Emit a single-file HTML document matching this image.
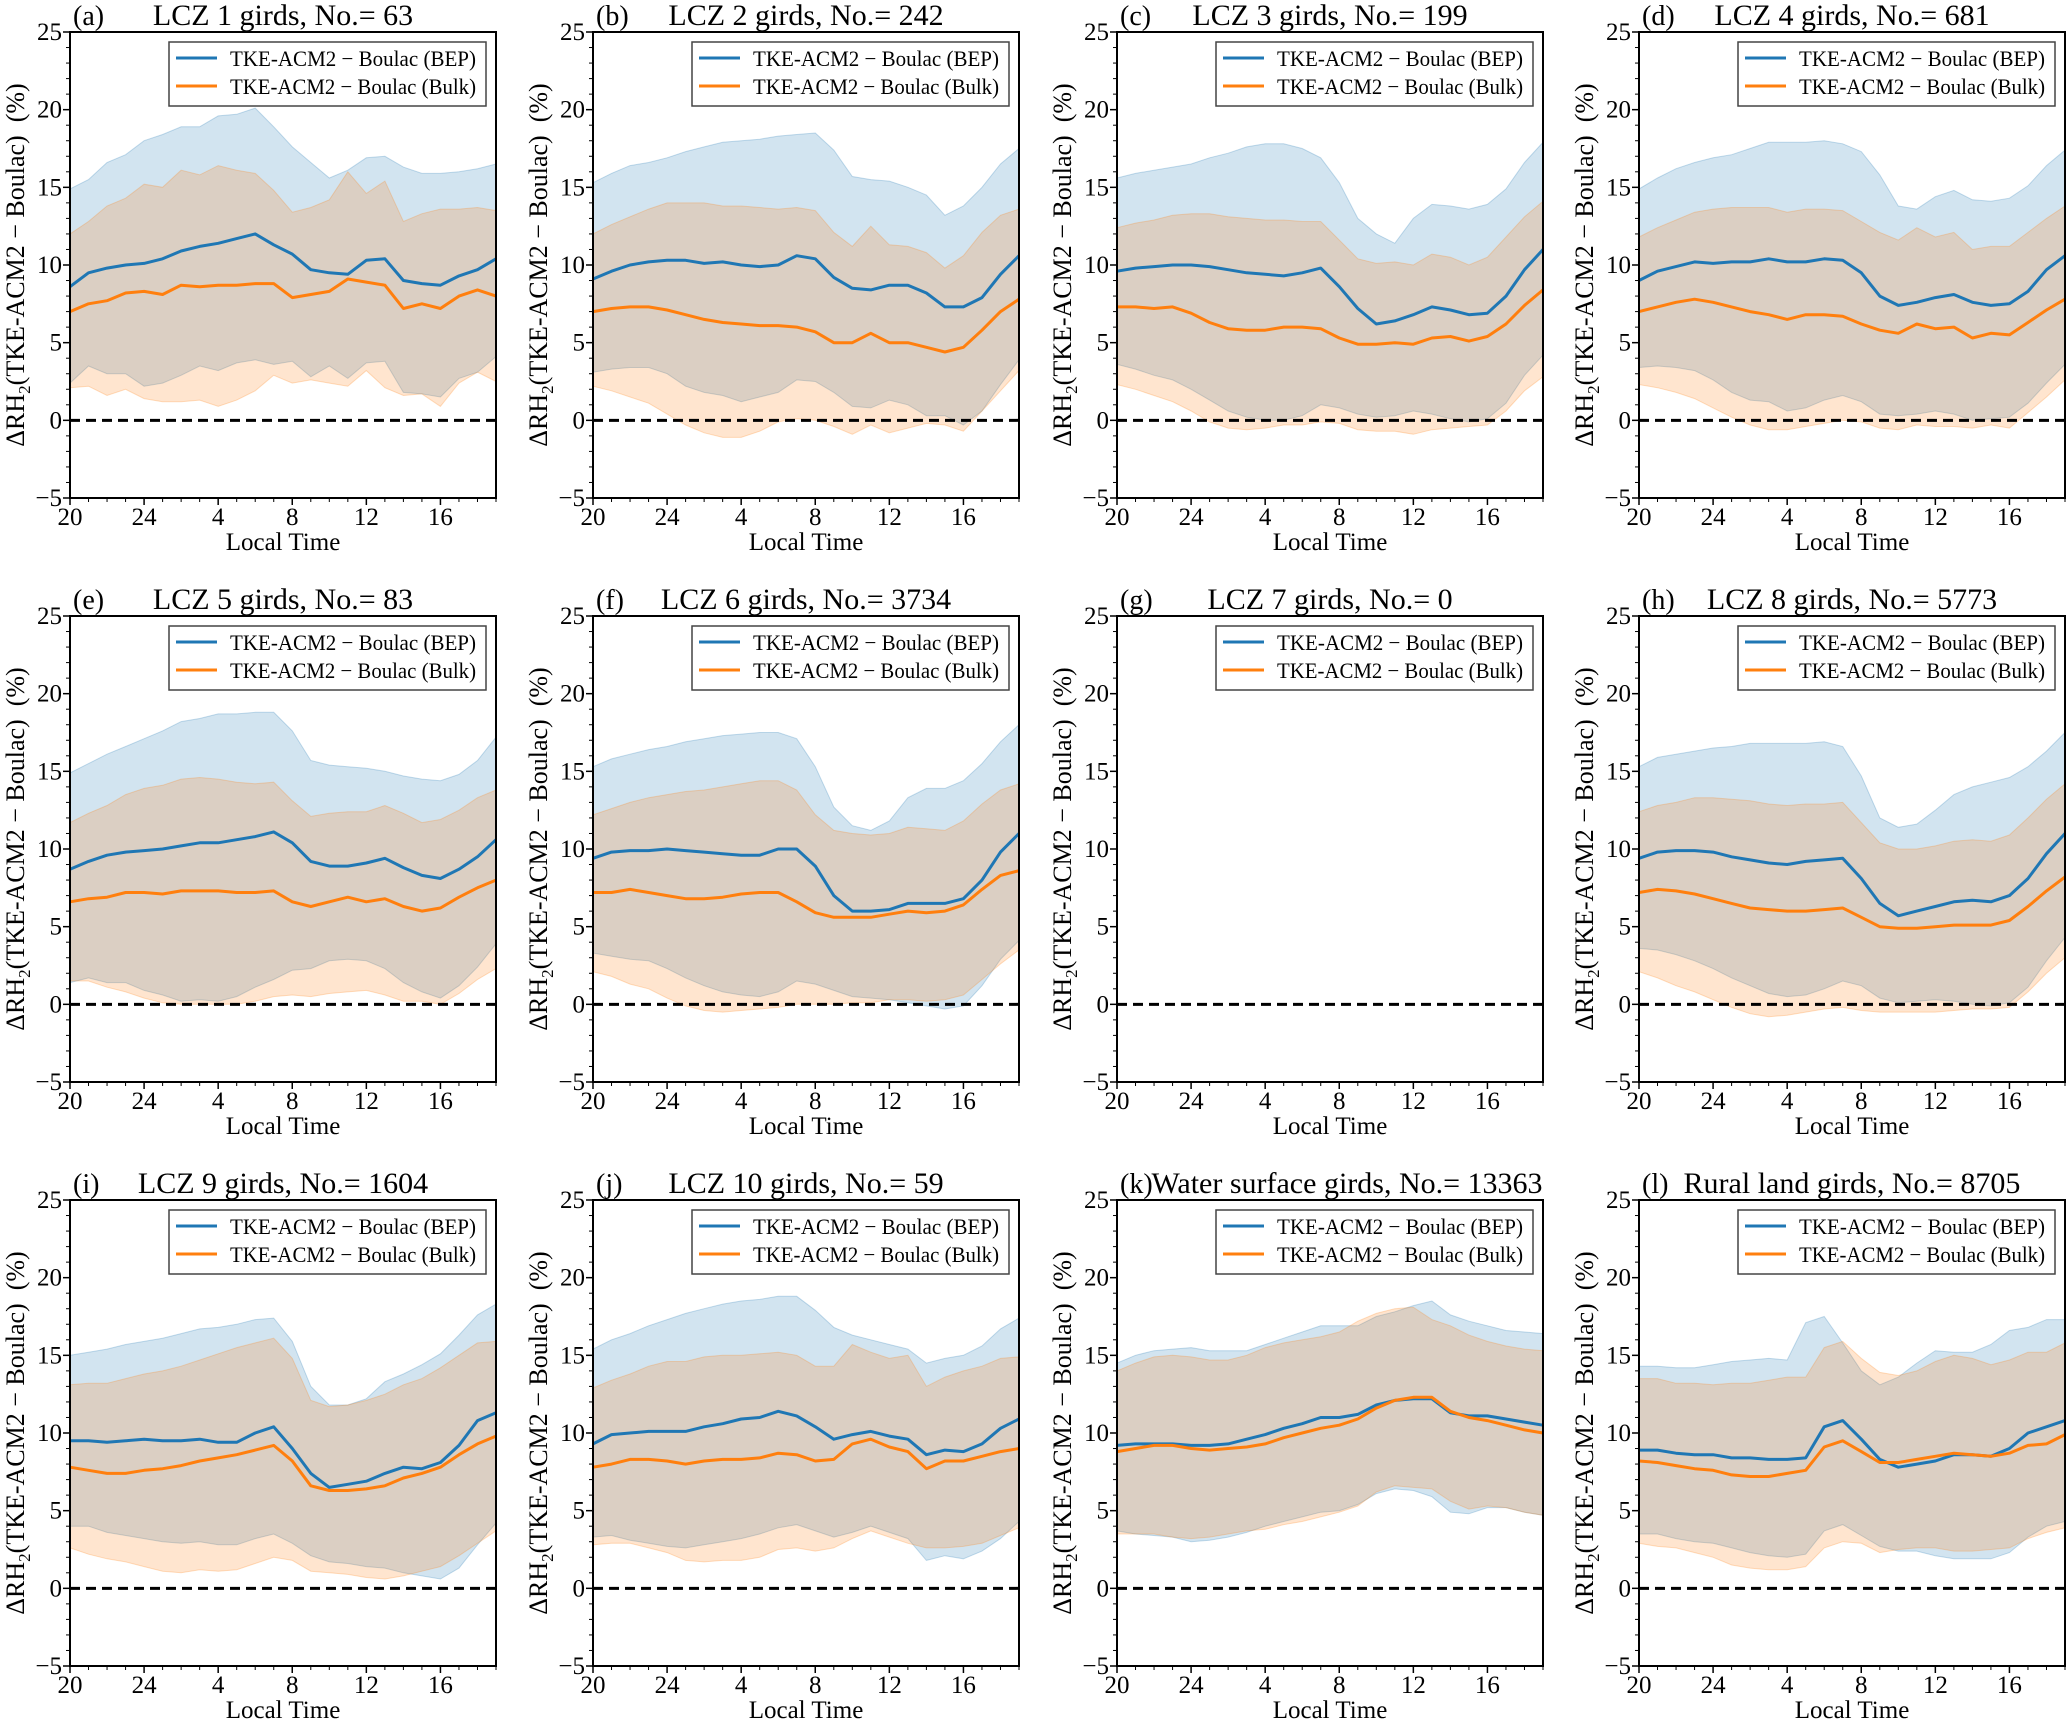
<!DOCTYPE html>
<html><head><meta charset="utf-8"><style>
html,body{margin:0;padding:0;background:#fff;}
svg{display:block;font-family:"Liberation Serif",serif;}
</style></head><body>
<svg id="fig" width="2067" height="1722" viewBox="0 0 2067 1722" xmlns="http://www.w3.org/2000/svg"></svg>
<script>
const xTickLabels = ["20","24","4","8","12","16"];
const yTicks = [-5,0,5,10,15,20,25];
const yTickLabels = ["\u22125","0","5","10","15","20","25"];
const panelTitles = ["LCZ 1 girds, No.= 63","LCZ 2 girds, No.= 242","LCZ 3 girds, No.= 199","LCZ 4 girds, No.= 681","LCZ 5 girds, No.= 83","LCZ 6 girds, No.= 3734","LCZ 7 girds, No.= 0","LCZ 8 girds, No.= 5773","LCZ 9 girds, No.= 1604","LCZ 10 girds, No.= 59","Water surface girds, No.= 13363","Rural land girds, No.= 8705"];
const panelLetters = ["(a)","(b)","(c)","(d)","(e)","(f)","(g)","(h)","(i)","(j)","(k)","(l)"];

const bepMean_a=[8.6,9.5,9.8,10.0,10.1,10.4,10.9,11.2,11.4,11.7,12.0,11.3,10.7,9.7,9.5,9.4,10.3,10.4,9.0,8.8,8.7,9.3,9.7,10.4];
const bepHi_a=[14.9,15.5,16.6,17.1,18.0,18.4,18.9,18.9,19.6,19.7,20.1,18.9,17.6,16.6,15.6,16.1,16.9,17.0,16.3,15.9,15.9,16.0,16.2,16.5];
const bepLo_a=[2.4,3.5,3.0,3.0,2.2,2.4,2.9,3.5,3.2,3.7,3.9,3.6,3.8,2.8,3.5,2.7,3.7,3.8,1.8,1.7,1.5,2.7,3.1,4.1];
const bulkMean_a=[7.0,7.5,7.7,8.2,8.3,8.1,8.7,8.6,8.7,8.7,8.8,8.8,7.9,8.1,8.3,9.1,8.9,8.7,7.2,7.5,7.2,8.0,8.4,8.0];
const bulkHi_a=[12.0,12.8,13.8,14.3,15.2,15.0,16.1,15.8,16.4,16.1,15.9,14.8,13.4,13.7,14.2,16.0,14.6,15.4,12.8,13.3,13.6,13.6,13.7,13.5];
const bulkLo_a=[2.1,2.2,1.6,2.0,1.4,1.2,1.2,1.3,0.9,1.3,1.9,2.9,2.4,2.6,2.4,2.2,3.2,2.1,1.6,1.7,0.9,2.4,3.1,2.5];

const bepMean_b=[9.1,9.6,10.0,10.2,10.3,10.3,10.1,10.2,10.0,9.9,10.0,10.6,10.4,9.2,8.5,8.4,8.7,8.7,8.2,7.3,7.3,7.9,9.4,10.6];
const bepHi_b=[15.3,15.9,16.4,16.6,16.9,17.3,17.6,17.9,18.0,18.1,18.3,18.4,18.5,17.4,15.7,15.5,15.4,15.0,14.5,13.2,13.8,15.0,16.5,17.5];
const bepLo_b=[3.1,3.3,3.4,3.4,3.0,2.2,1.8,1.6,1.2,1.5,1.8,2.6,2.5,1.8,0.9,0.8,1.3,1.0,0.3,0.3,-0.3,0.6,2.3,3.9];
const bulkMean_b=[7.0,7.2,7.3,7.3,7.1,6.8,6.5,6.3,6.2,6.1,6.1,6.0,5.7,5.0,5.0,5.6,5.0,5.0,4.7,4.4,4.7,5.8,7.0,7.8];
const bulkHi_b=[12.0,12.6,13.1,13.6,14.0,14.0,14.0,13.8,13.8,13.7,13.6,13.7,13.5,12.1,11.2,12.5,11.3,11.2,10.8,9.8,10.6,12.1,13.2,13.6];
const bulkLo_b=[2.2,1.9,1.5,1.1,0.4,-0.3,-0.8,-1.1,-1.1,-0.7,-0.1,0.1,0.0,-0.4,-0.9,-0.3,-0.8,-0.5,-0.2,-0.3,-0.7,0.6,1.9,3.2];

const bepMean_c=[9.6,9.8,9.9,10.0,10.0,9.9,9.7,9.5,9.4,9.3,9.5,9.8,8.6,7.2,6.2,6.4,6.8,7.3,7.1,6.8,6.9,8.0,9.7,11.0];
const bepHi_c=[15.6,15.9,16.1,16.3,16.5,16.9,17.2,17.6,17.8,17.8,17.5,16.9,15.3,13.0,12.0,11.4,13.0,13.9,13.8,13.6,13.9,14.9,16.6,17.9];
const bepLo_c=[3.6,3.3,2.9,2.6,2.0,1.3,0.6,0.2,0.0,0.0,0.3,1.0,0.8,0.4,0.2,0.3,0.6,0.4,0.1,-0.1,0.1,1.1,2.9,4.2];
const bulkMean_c=[7.3,7.3,7.2,7.3,6.9,6.3,5.9,5.8,5.8,6.0,6.0,5.9,5.3,4.9,4.9,5.0,4.9,5.3,5.4,5.1,5.4,6.2,7.4,8.4];
const bulkHi_c=[12.4,12.7,12.9,13.2,13.3,13.3,13.1,13.0,12.9,12.9,12.8,12.8,11.6,10.4,10.1,10.2,10.0,10.7,10.5,10.0,10.5,11.8,13.1,14.1];
const bulkLo_c=[2.3,2.0,1.6,1.2,0.6,-0.1,-0.5,-0.6,-0.5,-0.3,-0.3,-0.1,-0.2,-0.6,-0.7,-0.7,-0.9,-0.6,-0.5,-0.4,-0.3,0.6,1.9,2.8];

const bepMean_d=[9.0,9.6,9.9,10.2,10.1,10.2,10.2,10.4,10.2,10.2,10.4,10.3,9.5,8.0,7.4,7.6,7.9,8.1,7.6,7.4,7.5,8.3,9.7,10.6];
const bepHi_d=[14.9,15.6,16.2,16.6,16.9,17.1,17.5,17.9,17.9,17.9,18.0,17.8,17.3,15.8,13.8,13.6,14.4,14.8,14.2,14.1,14.3,15.1,16.4,17.4];
const bepLo_d=[3.4,3.5,3.4,3.2,2.6,1.8,1.3,1.2,0.6,0.8,1.3,1.6,1.2,0.4,0.3,0.4,0.6,0.4,0.0,0.1,0.2,1.1,2.4,3.6];
const bulkMean_d=[7.0,7.3,7.6,7.8,7.6,7.3,7.0,6.8,6.5,6.8,6.8,6.7,6.2,5.8,5.6,6.2,5.9,6.0,5.3,5.6,5.5,6.3,7.1,7.8];
const bulkHi_d=[11.8,12.4,12.9,13.4,13.6,13.7,13.7,13.7,13.4,13.6,13.6,13.5,12.8,12.1,11.6,12.4,11.8,12.1,11.0,11.2,11.2,12.1,13.0,13.8];
const bulkLo_d=[2.3,2.1,1.8,1.4,0.8,0.2,-0.3,-0.6,-0.6,-0.4,-0.2,0.0,-0.1,-0.5,-0.6,-0.3,-0.4,-0.4,-0.5,-0.3,-0.5,0.5,1.5,2.6];

const bepMean_e=[8.7,9.2,9.6,9.8,9.9,10.0,10.2,10.4,10.4,10.6,10.8,11.1,10.4,9.2,8.9,8.9,9.1,9.4,8.8,8.3,8.1,8.7,9.5,10.6];
const bepHi_e=[14.9,15.5,16.1,16.6,17.1,17.6,18.2,18.4,18.7,18.7,18.8,18.8,17.6,15.7,15.4,15.3,15.2,15.0,14.7,14.5,14.4,14.8,15.7,17.2];
const bepLo_e=[1.4,1.7,1.4,1.4,0.9,0.6,0.2,0.3,0.2,0.5,1.1,1.6,2.2,2.3,2.8,2.9,2.8,2.3,1.4,0.8,0.4,1.2,2.4,3.9];
const bulkMean_e=[6.6,6.8,6.9,7.2,7.2,7.1,7.3,7.3,7.3,7.2,7.2,7.3,6.6,6.3,6.6,6.9,6.6,6.8,6.3,6.0,6.2,6.9,7.5,8.0];
const bulkHi_e=[11.7,12.3,12.8,13.5,13.9,14.1,14.5,14.6,14.5,14.3,14.2,14.3,13.1,12.1,12.3,12.4,12.4,12.8,12.3,11.7,11.9,12.5,13.3,13.8];
const bulkLo_e=[1.5,1.5,1.1,0.8,0.4,0.1,0.0,0.0,0.0,0.0,0.2,0.5,0.6,0.5,0.7,0.8,0.9,0.6,0.2,0.2,0.0,0.7,1.6,2.3];

const bepMean_f=[9.4,9.8,9.9,9.9,10.0,9.9,9.8,9.7,9.6,9.6,10.0,10.0,8.9,7.0,6.0,6.0,6.1,6.5,6.5,6.5,6.8,8.0,9.8,11.0];
const bepHi_f=[15.3,15.8,16.1,16.4,16.6,16.9,17.1,17.3,17.4,17.5,17.5,17.1,15.3,12.7,11.5,11.2,11.8,13.3,13.9,13.9,14.4,15.5,16.9,18.0];
const bepLo_f=[3.3,3.1,2.9,2.8,2.3,1.7,1.2,0.8,0.6,0.5,0.8,1.5,1.3,0.9,0.5,0.4,0.3,0.1,-0.1,-0.3,-0.1,1.2,2.9,4.1];
const bulkMean_f=[7.2,7.2,7.4,7.2,7.0,6.8,6.8,6.9,7.1,7.2,7.2,6.6,5.9,5.6,5.6,5.6,5.8,6.0,5.9,6.0,6.4,7.4,8.3,8.6];
const bulkHi_f=[12.2,12.6,13.0,13.3,13.5,13.7,13.8,14.0,14.2,14.4,14.4,13.8,12.2,11.2,11.0,10.9,11.0,11.4,11.3,11.2,11.8,12.9,13.8,14.2];
const bulkLo_f=[2.1,1.8,1.3,1.0,0.4,-0.1,-0.4,-0.5,-0.4,-0.3,-0.2,0.0,0.0,0.0,0.1,0.1,0.3,0.3,0.2,0.3,0.6,1.6,2.6,3.5];

const bepMean_h=[9.4,9.8,9.9,9.9,9.8,9.5,9.3,9.1,9.0,9.2,9.3,9.4,8.1,6.5,5.7,6.0,6.3,6.6,6.7,6.6,7.0,8.1,9.7,11.0];
const bepHi_h=[15.3,15.9,16.1,16.3,16.5,16.6,16.8,16.8,16.8,16.8,16.9,16.6,14.7,12.0,11.4,11.6,12.5,13.5,14.0,14.3,14.6,15.3,16.3,17.5];
const bepLo_h=[3.6,3.5,3.2,2.8,2.3,1.7,1.2,0.7,0.5,0.6,1.0,1.5,1.2,0.4,0.1,0.2,0.3,0.2,0.0,-0.1,0.1,1.1,2.8,4.3];
const bulkMean_h=[7.2,7.4,7.3,7.1,6.8,6.5,6.2,6.1,6.0,6.0,6.1,6.2,5.6,5.0,4.9,4.9,5.0,5.1,5.1,5.1,5.4,6.3,7.3,8.2];
const bulkHi_h=[12.4,12.8,13.0,13.3,13.3,13.2,13.1,12.9,12.8,12.9,12.9,13.0,11.7,10.4,10.0,10.0,10.2,10.5,10.6,10.5,10.9,12.0,13.2,14.2];
const bulkLo_h=[2.1,1.7,1.2,0.8,0.3,-0.2,-0.6,-0.8,-0.7,-0.5,-0.3,-0.2,-0.4,-0.5,-0.5,-0.5,-0.5,-0.4,-0.3,-0.3,-0.2,0.8,2.0,3.0];

const bepMean_i=[9.5,9.5,9.4,9.5,9.6,9.5,9.5,9.6,9.4,9.4,10.0,10.4,9.0,7.4,6.5,6.7,6.9,7.4,7.8,7.7,8.1,9.2,10.8,11.3];
const bepHi_i=[15.0,15.2,15.4,15.7,15.9,16.1,16.4,16.7,16.8,17.0,17.3,17.4,15.9,13.0,11.8,11.8,12.2,13.3,13.8,14.4,15.1,16.3,17.6,18.3];
const bepLo_i=[4.0,4.0,3.6,3.4,3.2,3.0,2.9,3.0,2.8,2.8,3.2,3.5,2.9,2.1,1.7,1.6,1.4,1.3,1.0,0.8,0.6,1.3,2.8,4.2];
const bulkMean_i=[7.8,7.6,7.4,7.4,7.6,7.7,7.9,8.2,8.4,8.6,8.9,9.2,8.2,6.6,6.3,6.3,6.4,6.6,7.1,7.4,7.8,8.6,9.3,9.8];
const bulkHi_i=[13.1,13.2,13.2,13.5,13.8,14.0,14.3,14.7,15.1,15.5,15.8,16.1,14.8,12.1,11.7,11.8,12.1,12.5,13.1,13.5,14.2,15.0,15.8,15.9];
const bulkLo_i=[2.6,2.2,1.9,1.7,1.4,1.1,1.0,1.2,1.1,1.2,1.6,2.0,1.8,1.1,1.0,0.9,0.7,0.6,0.8,1.1,1.4,2.1,2.9,3.7];

const bepMean_j=[9.3,9.9,10.0,10.1,10.1,10.1,10.4,10.6,10.9,11.0,11.4,11.1,10.4,9.6,9.9,10.1,9.8,9.6,8.6,8.9,8.8,9.3,10.3,10.9];
const bepHi_j=[15.4,16.0,16.4,16.9,17.3,17.7,18.0,18.3,18.5,18.6,18.8,18.8,17.9,16.8,16.3,16.0,15.7,15.4,14.5,14.8,15.0,15.6,16.7,17.4];
const bepLo_j=[3.3,3.4,3.1,2.9,2.7,2.6,2.8,3.0,3.2,3.5,3.9,4.1,3.7,3.3,3.6,4.0,3.6,3.2,1.8,2.1,1.9,2.4,3.2,4.3];
const bulkMean_j=[7.8,8.0,8.3,8.3,8.2,8.0,8.2,8.3,8.3,8.4,8.7,8.6,8.2,8.3,9.3,9.6,9.1,8.8,7.7,8.2,8.2,8.5,8.8,9.0];
const bulkHi_j=[12.9,13.4,13.8,14.3,14.6,14.6,14.9,15.0,15.0,15.1,15.2,15.0,14.3,14.3,15.7,15.2,14.8,15.0,13.0,13.6,14.0,14.3,14.8,14.9];
const bulkLo_j=[2.8,2.9,2.9,2.6,2.3,1.8,1.7,1.8,1.8,2.0,2.5,2.6,2.4,2.6,3.2,3.7,3.3,2.9,2.6,2.6,2.7,2.9,3.4,3.9];

const bepMean_k=[9.2,9.3,9.3,9.3,9.2,9.2,9.3,9.6,9.9,10.3,10.6,11.0,11.0,11.2,11.8,12.1,12.2,12.2,11.3,11.1,11.1,10.9,10.7,10.5];
const bepHi_k=[14.5,15.0,15.3,15.4,15.5,15.3,15.3,15.3,15.7,16.1,16.5,16.9,16.9,16.9,17.5,17.8,18.2,18.5,17.6,17.2,16.9,16.6,16.5,16.4];
const bepLo_k=[3.7,3.5,3.4,3.3,3.0,3.1,3.3,3.6,4.0,4.3,4.6,4.9,5.0,5.4,6.1,6.4,6.3,5.9,4.9,4.8,5.2,5.2,4.9,4.7];
const bulkMean_k=[8.8,9.0,9.2,9.2,9.0,8.9,9.0,9.1,9.3,9.7,10.0,10.3,10.5,10.9,11.6,12.1,12.3,12.3,11.4,11.0,10.8,10.5,10.2,10.0];
const bulkHi_k=[14.0,14.5,14.9,15.0,14.9,14.7,14.7,15.0,15.5,15.8,16.0,16.2,16.5,17.2,17.7,18.0,18.1,17.3,16.9,16.3,15.9,15.6,15.4,15.3];
const bulkLo_k=[3.5,3.5,3.5,3.3,3.2,3.3,3.5,3.7,3.8,4.1,4.3,4.6,4.9,5.3,6.2,6.6,6.5,6.4,5.6,5.1,5.3,5.2,4.9,4.7];

const bepMean_l=[8.9,8.9,8.7,8.6,8.6,8.4,8.4,8.3,8.3,8.4,10.4,10.8,9.6,8.3,7.8,8.0,8.2,8.6,8.6,8.5,9.0,10.0,10.4,10.8];
const bepHi_l=[14.3,14.3,14.2,14.2,14.4,14.6,14.7,14.8,14.7,17.1,17.5,15.8,14.0,13.1,13.6,14.5,15.3,15.2,15.2,15.7,16.6,16.8,17.3,17.3];
const bepLo_l=[3.5,3.5,3.2,3.0,2.9,2.6,2.3,2.1,2.0,2.2,3.7,4.1,3.4,2.7,2.4,2.4,2.1,1.9,1.9,1.9,2.3,3.3,4.0,4.3];
const bulkMean_l=[8.2,8.1,7.9,7.7,7.6,7.3,7.2,7.2,7.4,7.6,9.1,9.5,8.8,8.1,8.1,8.3,8.5,8.7,8.6,8.5,8.7,9.2,9.3,9.9];
const bulkHi_l=[13.5,13.5,13.2,13.2,13.1,13.2,13.2,13.4,13.6,13.6,15.5,15.9,14.8,13.9,13.7,14.0,14.6,15.0,14.8,14.4,14.7,15.2,15.2,15.8];
const bulkLo_l=[2.9,2.7,2.6,2.3,2.0,1.5,1.3,1.2,1.2,1.4,2.6,3.0,2.9,2.3,2.5,2.6,2.6,2.4,2.4,2.5,2.6,3.2,3.6,3.9];

const panelSeries = [
 [bepMean_a,bepHi_a,bepLo_a,bulkMean_a,bulkHi_a,bulkLo_a],
 [bepMean_b,bepHi_b,bepLo_b,bulkMean_b,bulkHi_b,bulkLo_b],
 [bepMean_c,bepHi_c,bepLo_c,bulkMean_c,bulkHi_c,bulkLo_c],
 [bepMean_d,bepHi_d,bepLo_d,bulkMean_d,bulkHi_d,bulkLo_d],
 [bepMean_e,bepHi_e,bepLo_e,bulkMean_e,bulkHi_e,bulkLo_e],
 [bepMean_f,bepHi_f,bepLo_f,bulkMean_f,bulkHi_f,bulkLo_f],
 null,
 [bepMean_h,bepHi_h,bepLo_h,bulkMean_h,bulkHi_h,bulkLo_h],
 [bepMean_i,bepHi_i,bepLo_i,bulkMean_i,bulkHi_i,bulkLo_i],
 [bepMean_j,bepHi_j,bepLo_j,bulkMean_j,bulkHi_j,bulkLo_j],
 [bepMean_k,bepHi_k,bepLo_k,bulkMean_k,bulkHi_k,bulkLo_k],
 [bepMean_l,bepHi_l,bepLo_l,bulkMean_l,bulkHi_l,bulkLo_l]
];

const NS="http://www.w3.org/2000/svg";
const svg=document.getElementById('fig');
function mk(tag,parent,attrs){const e=document.createElementNS(NS,tag);for(const k in attrs)e.setAttribute(k,attrs[k]);parent.appendChild(e);return e;}
const colLeft=[70,593,1117,1639], rowTop=[32,616,1200], W=426, H=466;
const BLUE="#1f77b4", ORANGE="#ff7f0e";

panelTitles.forEach((title,p)=>{
  const L=colLeft[p%4], T=rowTop[Math.floor(p/4)];
  const g=mk('g',svg,{});
  
  
  const xs=i=>L+i/23*W;
  const ys=v=>T+H-(v+5)/30*H;
  const s=panelSeries[p];
  if(s){
    const band=(hi,lo,col,name)=>{
      let d='M'+hi.map((v,i)=>xs(i).toFixed(1)+','+ys(v).toFixed(1)).join('L');
      for(let i=lo.length-1;i>=0;i--)d+='L'+xs(i).toFixed(1)+','+ys(lo[i]).toFixed(1);
      const e=mk('path',g,{d:d+'Z',fill:col,'fill-opacity':0.2,stroke:col,'stroke-opacity':0.25,'stroke-width':1});
      
      
    };
    band(s[1],s[2],BLUE,'bep-range-band');
    band(s[4],s[5],ORANGE,'bulk-range-band');
  }
  const zl=mk('line',g,{x1:L,x2:L+W,y1:ys(0),y2:ys(0),stroke:'#000','stroke-width':3,'stroke-dasharray':'10,6'});
  
  
  if(s){
    const line=(m,col,name)=>{
      const e=mk('polyline',g,{points:m.map((v,i)=>xs(i).toFixed(1)+','+ys(v).toFixed(1)).join(' '),fill:'none',stroke:col,'stroke-width':3,'stroke-linejoin':'round'});
      
      
    };
    line(s[0],BLUE,'bep-mean-line');
    line(s[3],ORANGE,'bulk-mean-line');
  }
  const fr=mk('rect',g,{x:L,y:T,width:W,height:H,fill:'none',stroke:'#000','stroke-width':2});
  
  
  for(let v=-5;v<=25;v++){const maj=v%5===0;mk('line',g,{x1:L,x2:L-(maj?7:4),y1:ys(v),y2:ys(v),stroke:'#000','stroke-width':maj?1.5:1});}
  yTicks.forEach((v,k)=>{const t=mk('text',g,{x:L-8,y:ys(v)+8,'text-anchor':'end','font-size':25});t.textContent=yTickLabels[k];
    
    });
  for(let i=0;i<=23;i++){const maj=i%4===0;mk('line',g,{x1:xs(i),x2:xs(i),y1:T+H,y2:T+H+(maj?7:4),stroke:'#000','stroke-width':maj?1.5:1});}
  xTickLabels.forEach((lab,k)=>{const t=mk('text',g,{x:xs(k*4),y:T+H+27,'text-anchor':'middle','font-size':25});t.textContent=lab;
    
    });
  const xl=mk('text',g,{x:L+W/2,y:T+H+52,'text-anchor':'middle','font-size':25});xl.textContent='Local Time';
  
  
  const yl=mk('text',g,{x:0,y:0,'text-anchor':'middle','font-size':26,transform:`translate(${L-46},${T+H/2}) rotate(-90)`});
  yl.innerHTML='\u0394RH<tspan font-size="17" dy="6">2</tspan><tspan dy="-6">(TKE-ACM2 \u2212 Boulac)\u00a0\u00a0(%)</tspan>';
  
  
  const lt=mk('text',g,{x:L+3,y:T-7,'font-size':28});lt.textContent=panelLetters[p];
  
  
  const tt=mk('text',g,{x:L+W/2+(p===10?17:0),y:T-7,'text-anchor':'middle','font-size':30});tt.textContent=title;
  
  
  const lg=mk('g',g,{});
  
  
  const lx=L+W-10-317, ly=T+10;
  mk('rect',lg,{x:lx,y:ly,width:317,height:64,fill:'#fff','fill-opacity':0.85,stroke:'#444','stroke-width':1.5});
  [[BLUE,'TKE-ACM2 \u2212 Boulac (BEP)',26],[ORANGE,'TKE-ACM2 \u2212 Boulac (Bulk)',54]].forEach(([c,txt,dy],k)=>{
    const le=mk('g',lg,{});
    
    
    mk('line',le,{x1:lx+7,x2:lx+48,y1:ly+dy-10,y2:ly+dy-10,stroke:c,'stroke-width':3});
    const t=mk('text',le,{x:lx+61,y:ly+dy-2,'font-size':22,textLength:246,lengthAdjust:'spacingAndGlyphs'});t.textContent=txt;
  });
});
</script>
</body></html>
